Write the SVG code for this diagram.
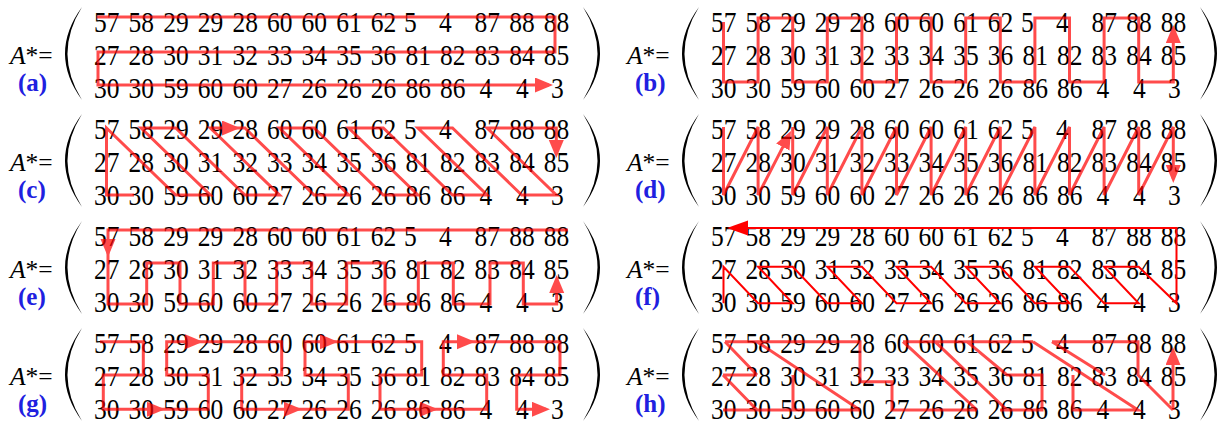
<svg xmlns="http://www.w3.org/2000/svg" width="1222" height="425" viewBox="0 0 1222 425">
<style>
.n{font-family:"Liberation Serif","Times New Roman",serif;font-size:25.5px;fill:#000}
.eq{font-family:"Liberation Serif","Times New Roman",serif;font-size:25.5px;fill:#000}
.lab{font-family:"Liberation Serif","Times New Roman",serif;font-size:25px;font-weight:bold;fill:#2020e0}
.par{fill:#000}
.c{fill:none;stroke:#ff0000;stroke-width:3;stroke-linejoin:miter}
.cf{fill:none;stroke:#ff0000;stroke-width:2}
.ca{marker-end:url(#ah)}
</style>
<defs>
<marker id="ah" markerUnits="userSpaceOnUse" markerWidth="18" markerHeight="16" refX="14" refY="7.5" orient="auto"><path d="M0,0 L18,7.5 L0,15 Z" fill="#ff0000"/></marker>
<marker id="ahf" markerUnits="userSpaceOnUse" markerWidth="22" markerHeight="16" refX="17" refY="7.5" orient="auto"><path d="M0,0 L21,7.5 L0,15 Z" fill="#ff0000"/></marker>
</defs>
<rect width="1222" height="425" fill="#fff"/>

<g id="panel-a" transform="translate(0,0)">
<text class="eq" x="10" y="63.5"><tspan font-style="italic">A</tspan>*=</text>
<text class="lab" x="18" y="91">(a)</text>
<path class="par" d="M82,7 Q48,53.5 82,100 Q53,53.5 82,7 Z"/><path class="par" d="M583,7 Q617,53.5 583,100 Q612,53.5 583,7 Z"/>
<text class="n" transform="translate(0,31.5) scale(1,1.15)"><tspan x="94">57</tspan><tspan x="128.6">58</tspan><tspan x="163.2">29</tspan><tspan x="197.8">29</tspan><tspan x="232.4">28</tspan><tspan x="267">60</tspan><tspan x="301.6">60</tspan><tspan x="336.2">61</tspan><tspan x="370.8">62</tspan><tspan x="404">5</tspan><tspan x="439">4</tspan><tspan x="474.6">87</tspan><tspan x="509.2">88</tspan><tspan x="543.8">88</tspan></text>
<text class="n" transform="translate(0,64.5) scale(1,1.15)"><tspan x="94">27</tspan><tspan x="128.6">28</tspan><tspan x="163.2">30</tspan><tspan x="197.8">31</tspan><tspan x="232.4">32</tspan><tspan x="267">33</tspan><tspan x="301.6">34</tspan><tspan x="336.2">35</tspan><tspan x="370.8">36</tspan><tspan x="405.4">81</tspan><tspan x="440">82</tspan><tspan x="474.6">83</tspan><tspan x="509.2">84</tspan><tspan x="543.8">85</tspan></text>
<text class="n" transform="translate(0,97.5) scale(1,1.15)"><tspan x="94">30</tspan><tspan x="128.6">30</tspan><tspan x="163.2">59</tspan><tspan x="197.8">60</tspan><tspan x="232.4">60</tspan><tspan x="267">27</tspan><tspan x="301.6">26</tspan><tspan x="336.2">26</tspan><tspan x="370.8">26</tspan><tspan x="405.4">86</tspan><tspan x="440">86</tspan><tspan x="479.5">4</tspan><tspan x="516">4</tspan><tspan x="551">3</tspan></text>
</g>

<g id="panel-b" transform="translate(617,0)">
<text class="eq" x="10" y="63.5"><tspan font-style="italic">A</tspan>*=</text>
<text class="lab" x="18" y="91">(b)</text>
<path class="par" d="M82,7 Q48,53.5 82,100 Q53,53.5 82,7 Z"/><path class="par" d="M583,7 Q617,53.5 583,100 Q612,53.5 583,7 Z"/>
<text class="n" transform="translate(0,31.5) scale(1,1.15)"><tspan x="94">57</tspan><tspan x="128.6">58</tspan><tspan x="163.2">29</tspan><tspan x="197.8">29</tspan><tspan x="232.4">28</tspan><tspan x="267">60</tspan><tspan x="301.6">60</tspan><tspan x="336.2">61</tspan><tspan x="370.8">62</tspan><tspan x="404">5</tspan><tspan x="439">4</tspan><tspan x="474.6">87</tspan><tspan x="509.2">88</tspan><tspan x="543.8">88</tspan></text>
<text class="n" transform="translate(0,64.5) scale(1,1.15)"><tspan x="94">27</tspan><tspan x="128.6">28</tspan><tspan x="163.2">30</tspan><tspan x="197.8">31</tspan><tspan x="232.4">32</tspan><tspan x="267">33</tspan><tspan x="301.6">34</tspan><tspan x="336.2">35</tspan><tspan x="370.8">36</tspan><tspan x="405.4">81</tspan><tspan x="440">82</tspan><tspan x="474.6">83</tspan><tspan x="509.2">84</tspan><tspan x="543.8">85</tspan></text>
<text class="n" transform="translate(0,97.5) scale(1,1.15)"><tspan x="94">30</tspan><tspan x="128.6">30</tspan><tspan x="163.2">59</tspan><tspan x="197.8">60</tspan><tspan x="232.4">60</tspan><tspan x="267">27</tspan><tspan x="301.6">26</tspan><tspan x="336.2">26</tspan><tspan x="370.8">26</tspan><tspan x="405.4">86</tspan><tspan x="440">86</tspan><tspan x="479.5">4</tspan><tspan x="516">4</tspan><tspan x="551">3</tspan></text>
</g>

<g id="panel-c" transform="translate(0,107)">
<text class="eq" x="10" y="63.5"><tspan font-style="italic">A</tspan>*=</text>
<text class="lab" x="18" y="91">(c)</text>
<path class="par" d="M82,7 Q48,53.5 82,100 Q53,53.5 82,7 Z"/><path class="par" d="M583,7 Q617,53.5 583,100 Q612,53.5 583,7 Z"/>
<text class="n" transform="translate(0,31.5) scale(1,1.15)"><tspan x="94">57</tspan><tspan x="128.6">58</tspan><tspan x="163.2">29</tspan><tspan x="197.8">29</tspan><tspan x="232.4">28</tspan><tspan x="267">60</tspan><tspan x="301.6">60</tspan><tspan x="336.2">61</tspan><tspan x="370.8">62</tspan><tspan x="404">5</tspan><tspan x="439">4</tspan><tspan x="474.6">87</tspan><tspan x="509.2">88</tspan><tspan x="543.8">88</tspan></text>
<text class="n" transform="translate(0,64.5) scale(1,1.15)"><tspan x="94">27</tspan><tspan x="128.6">28</tspan><tspan x="163.2">30</tspan><tspan x="197.8">31</tspan><tspan x="232.4">32</tspan><tspan x="267">33</tspan><tspan x="301.6">34</tspan><tspan x="336.2">35</tspan><tspan x="370.8">36</tspan><tspan x="405.4">81</tspan><tspan x="440">82</tspan><tspan x="474.6">83</tspan><tspan x="509.2">84</tspan><tspan x="543.8">85</tspan></text>
<text class="n" transform="translate(0,97.5) scale(1,1.15)"><tspan x="94">30</tspan><tspan x="128.6">30</tspan><tspan x="163.2">59</tspan><tspan x="197.8">60</tspan><tspan x="232.4">60</tspan><tspan x="267">27</tspan><tspan x="301.6">26</tspan><tspan x="336.2">26</tspan><tspan x="370.8">26</tspan><tspan x="405.4">86</tspan><tspan x="440">86</tspan><tspan x="479.5">4</tspan><tspan x="516">4</tspan><tspan x="551">3</tspan></text>
</g>

<g id="panel-d" transform="translate(617,107)">
<text class="eq" x="10" y="63.5"><tspan font-style="italic">A</tspan>*=</text>
<text class="lab" x="18" y="91">(d)</text>
<path class="par" d="M82,7 Q48,53.5 82,100 Q53,53.5 82,7 Z"/><path class="par" d="M583,7 Q617,53.5 583,100 Q612,53.5 583,7 Z"/>
<text class="n" transform="translate(0,31.5) scale(1,1.15)"><tspan x="94">57</tspan><tspan x="128.6">58</tspan><tspan x="163.2">29</tspan><tspan x="197.8">29</tspan><tspan x="232.4">28</tspan><tspan x="267">60</tspan><tspan x="301.6">60</tspan><tspan x="336.2">61</tspan><tspan x="370.8">62</tspan><tspan x="404">5</tspan><tspan x="439">4</tspan><tspan x="474.6">87</tspan><tspan x="509.2">88</tspan><tspan x="543.8">88</tspan></text>
<text class="n" transform="translate(0,64.5) scale(1,1.15)"><tspan x="94">27</tspan><tspan x="128.6">28</tspan><tspan x="163.2">30</tspan><tspan x="197.8">31</tspan><tspan x="232.4">32</tspan><tspan x="267">33</tspan><tspan x="301.6">34</tspan><tspan x="336.2">35</tspan><tspan x="370.8">36</tspan><tspan x="405.4">81</tspan><tspan x="440">82</tspan><tspan x="474.6">83</tspan><tspan x="509.2">84</tspan><tspan x="543.8">85</tspan></text>
<text class="n" transform="translate(0,97.5) scale(1,1.15)"><tspan x="94">30</tspan><tspan x="128.6">30</tspan><tspan x="163.2">59</tspan><tspan x="197.8">60</tspan><tspan x="232.4">60</tspan><tspan x="267">27</tspan><tspan x="301.6">26</tspan><tspan x="336.2">26</tspan><tspan x="370.8">26</tspan><tspan x="405.4">86</tspan><tspan x="440">86</tspan><tspan x="479.5">4</tspan><tspan x="516">4</tspan><tspan x="551">3</tspan></text>
</g>

<g id="panel-e" transform="translate(0,214)">
<text class="eq" x="10" y="63.5"><tspan font-style="italic">A</tspan>*=</text>
<text class="lab" x="18" y="91">(e)</text>
<path class="par" d="M82,7 Q48,53.5 82,100 Q53,53.5 82,7 Z"/><path class="par" d="M583,7 Q617,53.5 583,100 Q612,53.5 583,7 Z"/>
<text class="n" transform="translate(0,31.5) scale(1,1.15)"><tspan x="94">57</tspan><tspan x="128.6">58</tspan><tspan x="163.2">29</tspan><tspan x="197.8">29</tspan><tspan x="232.4">28</tspan><tspan x="267">60</tspan><tspan x="301.6">60</tspan><tspan x="336.2">61</tspan><tspan x="370.8">62</tspan><tspan x="404">5</tspan><tspan x="439">4</tspan><tspan x="474.6">87</tspan><tspan x="509.2">88</tspan><tspan x="543.8">88</tspan></text>
<text class="n" transform="translate(0,64.5) scale(1,1.15)"><tspan x="94">27</tspan><tspan x="128.6">28</tspan><tspan x="163.2">30</tspan><tspan x="197.8">31</tspan><tspan x="232.4">32</tspan><tspan x="267">33</tspan><tspan x="301.6">34</tspan><tspan x="336.2">35</tspan><tspan x="370.8">36</tspan><tspan x="405.4">81</tspan><tspan x="440">82</tspan><tspan x="474.6">83</tspan><tspan x="509.2">84</tspan><tspan x="543.8">85</tspan></text>
<text class="n" transform="translate(0,97.5) scale(1,1.15)"><tspan x="94">30</tspan><tspan x="128.6">30</tspan><tspan x="163.2">59</tspan><tspan x="197.8">60</tspan><tspan x="232.4">60</tspan><tspan x="267">27</tspan><tspan x="301.6">26</tspan><tspan x="336.2">26</tspan><tspan x="370.8">26</tspan><tspan x="405.4">86</tspan><tspan x="440">86</tspan><tspan x="479.5">4</tspan><tspan x="516">4</tspan><tspan x="551">3</tspan></text>
</g>

<g id="panel-f" transform="translate(617,214)">
<text class="eq" x="10" y="63.5"><tspan font-style="italic">A</tspan>*=</text>
<text class="lab" x="18" y="91">(f)</text>
<path class="par" d="M82,7 Q48,53.5 82,100 Q53,53.5 82,7 Z"/><path class="par" d="M583,7 Q617,53.5 583,100 Q612,53.5 583,7 Z"/>
<text class="n" transform="translate(0,31.5) scale(1,1.15)"><tspan x="94">57</tspan><tspan x="128.6">58</tspan><tspan x="163.2">29</tspan><tspan x="197.8">29</tspan><tspan x="232.4">28</tspan><tspan x="267">60</tspan><tspan x="301.6">60</tspan><tspan x="336.2">61</tspan><tspan x="370.8">62</tspan><tspan x="404">5</tspan><tspan x="439">4</tspan><tspan x="474.6">87</tspan><tspan x="509.2">88</tspan><tspan x="543.8">88</tspan></text>
<text class="n" transform="translate(0,64.5) scale(1,1.15)"><tspan x="94">27</tspan><tspan x="128.6">28</tspan><tspan x="163.2">30</tspan><tspan x="197.8">31</tspan><tspan x="232.4">32</tspan><tspan x="267">33</tspan><tspan x="301.6">34</tspan><tspan x="336.2">35</tspan><tspan x="370.8">36</tspan><tspan x="405.4">81</tspan><tspan x="440">82</tspan><tspan x="474.6">83</tspan><tspan x="509.2">84</tspan><tspan x="543.8">85</tspan></text>
<text class="n" transform="translate(0,97.5) scale(1,1.15)"><tspan x="94">30</tspan><tspan x="128.6">30</tspan><tspan x="163.2">59</tspan><tspan x="197.8">60</tspan><tspan x="232.4">60</tspan><tspan x="267">27</tspan><tspan x="301.6">26</tspan><tspan x="336.2">26</tspan><tspan x="370.8">26</tspan><tspan x="405.4">86</tspan><tspan x="440">86</tspan><tspan x="479.5">4</tspan><tspan x="516">4</tspan><tspan x="551">3</tspan></text>
</g>

<g id="panel-g" transform="translate(0,321)">
<text class="eq" x="10" y="63.5"><tspan font-style="italic">A</tspan>*=</text>
<text class="lab" x="18" y="91">(g)</text>
<path class="par" d="M82,7 Q48,53.5 82,100 Q53,53.5 82,7 Z"/><path class="par" d="M583,7 Q617,53.5 583,100 Q612,53.5 583,7 Z"/>
<text class="n" transform="translate(0,31.5) scale(1,1.15)"><tspan x="94">57</tspan><tspan x="128.6">58</tspan><tspan x="163.2">29</tspan><tspan x="197.8">29</tspan><tspan x="232.4">28</tspan><tspan x="267">60</tspan><tspan x="301.6">60</tspan><tspan x="336.2">61</tspan><tspan x="370.8">62</tspan><tspan x="404">5</tspan><tspan x="439">4</tspan><tspan x="474.6">87</tspan><tspan x="509.2">88</tspan><tspan x="543.8">88</tspan></text>
<text class="n" transform="translate(0,64.5) scale(1,1.15)"><tspan x="94">27</tspan><tspan x="128.6">28</tspan><tspan x="163.2">30</tspan><tspan x="197.8">31</tspan><tspan x="232.4">32</tspan><tspan x="267">33</tspan><tspan x="301.6">34</tspan><tspan x="336.2">35</tspan><tspan x="370.8">36</tspan><tspan x="405.4">81</tspan><tspan x="440">82</tspan><tspan x="474.6">83</tspan><tspan x="509.2">84</tspan><tspan x="543.8">85</tspan></text>
<text class="n" transform="translate(0,97.5) scale(1,1.15)"><tspan x="94">30</tspan><tspan x="128.6">30</tspan><tspan x="163.2">59</tspan><tspan x="197.8">60</tspan><tspan x="232.4">60</tspan><tspan x="267">27</tspan><tspan x="301.6">26</tspan><tspan x="336.2">26</tspan><tspan x="370.8">26</tspan><tspan x="405.4">86</tspan><tspan x="440">86</tspan><tspan x="479.5">4</tspan><tspan x="516">4</tspan><tspan x="551">3</tspan></text>
</g>

<g id="panel-h" transform="translate(617,321)">
<text class="eq" x="10" y="63.5"><tspan font-style="italic">A</tspan>*=</text>
<text class="lab" x="18" y="91">(h)</text>
<path class="par" d="M82,7 Q48,53.5 82,100 Q53,53.5 82,7 Z"/><path class="par" d="M583,7 Q617,53.5 583,100 Q612,53.5 583,7 Z"/>
<text class="n" transform="translate(0,31.5) scale(1,1.15)"><tspan x="94">57</tspan><tspan x="128.6">58</tspan><tspan x="163.2">29</tspan><tspan x="197.8">29</tspan><tspan x="232.4">28</tspan><tspan x="267">60</tspan><tspan x="301.6">60</tspan><tspan x="336.2">61</tspan><tspan x="370.8">62</tspan><tspan x="404">5</tspan><tspan x="439">4</tspan><tspan x="474.6">87</tspan><tspan x="509.2">88</tspan><tspan x="543.8">88</tspan></text>
<text class="n" transform="translate(0,64.5) scale(1,1.15)"><tspan x="94">27</tspan><tspan x="128.6">28</tspan><tspan x="163.2">30</tspan><tspan x="197.8">31</tspan><tspan x="232.4">32</tspan><tspan x="267">33</tspan><tspan x="301.6">34</tspan><tspan x="336.2">35</tspan><tspan x="370.8">36</tspan><tspan x="405.4">81</tspan><tspan x="440">82</tspan><tspan x="474.6">83</tspan><tspan x="509.2">84</tspan><tspan x="543.8">85</tspan></text>
<text class="n" transform="translate(0,97.5) scale(1,1.15)"><tspan x="94">30</tspan><tspan x="128.6">30</tspan><tspan x="163.2">59</tspan><tspan x="197.8">60</tspan><tspan x="232.4">60</tspan><tspan x="267">27</tspan><tspan x="301.6">26</tspan><tspan x="336.2">26</tspan><tspan x="370.8">26</tspan><tspan x="405.4">86</tspan><tspan x="440">86</tspan><tspan x="479.5">4</tspan><tspan x="516">4</tspan><tspan x="551">3</tspan></text>
</g>

<g id="connectors">
<g id="path-a" opacity="0.7"><path class="c ca" d="M97,17 H555 V52 H98 V85 H549"/></g>
<g id="path-b" opacity="0.7" transform="translate(617,0)"><path class="c ca" d="M106.5,22 V82 H141.1 V18 H175.7 V82 H210.3 V18 H244.9 V82 H279.5 V18 H314.1 V82 H348.7 V18 H383.3 V82 H417.9 V18 H452.5 V82 H487.1 V18 H521.7 V82 H556.3 V29"/></g>
<g id="path-c" opacity="0.7" transform="translate(0,107)">
<path class="c ca" d="M134,88 H106.5 V21 L175.7,88 H210.3 L141.1,21 H175.7 L244.9,88 H279.5 L210.3,21 H236"/>
<path class="c ca" d="M236,21 H244.9 L314.1,88 H348.7 L279.5,21 H314.1 L383.3,88 H417.9 L348.7,21 H383.3 L452.5,88 H487.1 L417.9,21 H452.5 L521.7,88 H556.3 L487.1,21 H556.3 V47"/>
</g>
<g id="path-d" opacity="0.7" transform="translate(617,107)">
<path class="c ca" d="M106.5,20 V88 L141.1,20 V88 L172.2,27.6"/>
<path class="c ca" d="M175.7,20 V88 L210.3,20 V88 L244.9,20 V88 L279.5,20 V88 L314.1,20 V88 L348.7,20 V88 L383.3,20 V88 L417.9,20 V88 L452.5,20 V88 L487.1,20 V88 L521.7,20 V88 L556.3,20 V72"/>
</g>
<g id="path-e" opacity="0.7" transform="translate(0,214)">
<path class="c ca" d="M568,16 H108 V39"/>
<path class="c ca" d="M108,39 V90 H146.7 V49 H180 V90 H213.3 V49 H245 V90 H276.7 V49 H311.7 V90 H346.7 V49 H385 V90 H418.3 V49 H453.3 V90 H490 V49 H523.3 V90 H556.7 V65"/>
</g>
<g id="path-f" transform="translate(617,214)">
<path class="cf" marker-end="url(#ahf)" d="M106.5,89.3 V52.7 L141.1,89.3 H175.7 L141.1,52.7 H175.7 L210.3,89.3 H244.9 L210.3,52.7 H244.9 L279.5,89.3 H314.1 L279.5,52.7 H314.1 L348.7,89.3 H383.3 L348.7,52.7 H383.3 L417.9,89.3 H452.5 L417.9,52.7 H452.5 L487.1,89.3 H521.7 L487.1,52.7 H521.7 L559.5,89.3 V14 H114"/>
</g>
<g id="path-g" opacity="0.7" transform="translate(0,321)">
<path class="c ca" d="M100,20.7 H143.3 V54 H103.3 V88.3 H161"/>
<path class="c ca" d="M161,88.3 H208.3 V54 H166.7 V20.7 H199"/>
<path class="c ca" d="M199,20.7 H281.7 V54 H241.7 V88.3 H298"/>
<path class="c ca" d="M298,88.3 H348.3 V54 H305 V20.7 H334"/>
<path class="c ca" d="M334,20.7 H421.7 V54 H380 V88.3 H434"/>
<path class="c ca" d="M434,88.3 H486.7 V54 H443.3 V20.7 H471"/>
<path class="c ca" d="M471,20.7 H560 V54 H516.7 V88.3 H546"/>
</g>
<g id="path-h" opacity="0.7" transform="translate(617,321)">
<path class="c" d="M108,20.7 H243 V60.7 H275 V89 H360"/>
<path class="c" d="M106,54 H140 M108,20.7 L140,54 M106,54 L140,89 M106,89 H243 M176,54 V89 M140,20.7 L243,89 M286,20.7 H416 M286,20.7 L360,89 M318,20.7 L390,89 M350,20.7 L390,54 H425 V89 H383 M435,20.7 H521 V54 L556,89 M416,20.7 L521,89 H456 V54 M435,20.7 L488,54"/>
<path class="c ca" d="M556,89 V30"/>
</g>
</g>
</svg>
